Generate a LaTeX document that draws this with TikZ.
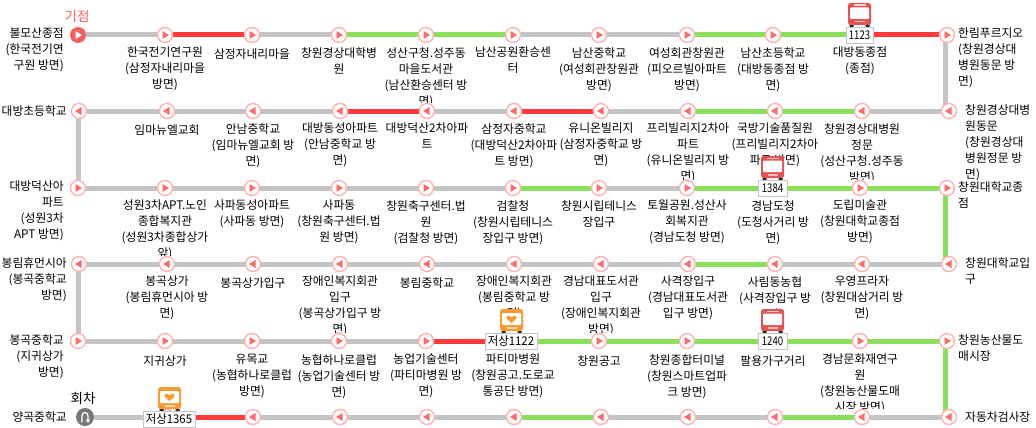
\documentclass[tikz,border=0pt]{standalone}
\usepackage{fontspec}
\usepackage{graphicx}
\setmainfont{Noto Sans CJK KR}
\definecolor{lgray}{HTML}{C4C4C4}
\definecolor{lgreen}{HTML}{8AE05A}
\definecolor{lred}{HTML}{FF3B3B}
\definecolor{ring}{HTML}{FFB2B2}
\definecolor{tri}{HTML}{FF6B6B}
\definecolor{startc}{HTML}{F2605F}
\definecolor{busred}{HTML}{E25353}
\definecolor{busorange}{HTML}{F79A32}
\definecolor{turnc}{HTML}{777777}
\pgfdeclarelayer{lo}
\pgfdeclarelayer{ln}
\pgfsetlayers{lo,ln,main}
\tikzset{
  stopbase/.style={circle,draw=ring,line width=1.4pt,fill=white,minimum size=15pt,inner sep=0pt},
  stopR/.style={stopbase,path picture={\fill[tri] ([shift={(-2.5,-4)}]path picture bounding box.center) -- ([shift={(4,0)}]path picture bounding box.center) -- ([shift={(-2.5,4)}]path picture bounding box.center) -- cycle;}},
  stopL/.style={stopbase,path picture={\fill[tri] ([shift={(2.5,-4)}]path picture bounding box.center) -- ([shift={(-4,0)}]path picture bounding box.center) -- ([shift={(2.5,4)}]path picture bounding box.center) -- cycle;}},
  stopStart/.style={circle,fill=startc,minimum size=16pt,inner sep=0pt,path picture={\fill[white] ([shift={(-2.5,-4)}]path picture bounding box.center) -- ([shift={(4,0)}]path picture bounding box.center) -- ([shift={(-2.5,4)}]path picture bounding box.center) -- cycle;}},
  stopTurn/.style={circle,fill=turnc,minimum size=18pt,inner sep=0pt},
  txt/.style={inner sep=0pt,font=\fontsize{11.8}{16}\selectfont,execute at begin node={\strut},text=black},
  lblC/.style={txt,align=center,anchor=north,yshift=-1pt},
  lblL/.style={txt,align=right,anchor=north east},
  lblR/.style={txt,align=left,anchor=north west},
  bigtxt/.style={inner sep=0pt,font=\fontsize{13.5}{16}\selectfont,execute at begin node={\strut}},
  seg/.style={line width=5pt},
  sg/.style={seg,lgray}, sn/.style={seg,lgreen}, sr/.style={seg,lred},
  buslabel/.style={draw=lgray,line width=.8pt,fill=white,inner sep=0pt,minimum height=16pt,font=\fontsize{12}{14}\selectfont},
  redbus/.pic={
    \fill[black!85] (-10,-2.5) rectangle (-6,0) (6,-2.5) rectangle (10,0);
    \fill[busred,rounded corners=2.5pt] (-11.5,-24) rectangle (11.5,-2);
    \fill[white,rounded corners=1pt] (-9.5,-19.5) rectangle (9.5,-8);
    \fill[white!70!busred] (-6,-22.5) rectangle (6,-21);
    \fill[white!60!busred] (-5,-6) rectangle (5,-4.5);
  },
  orangebus/.pic={
    \fill[black!85] (-10,-2.5) rectangle (-6,0) (6,-2.5) rectangle (10,0);
    \fill[busorange,rounded corners=2.5pt] (-11.5,-24) rectangle (11.5,-2);
    \fill[white,rounded corners=1pt] (-9.5,-20) rectangle (9.5,-8);
    \fill[busorange] (0,-10) .. controls (-3,-12.5) and (-6,-14.5) .. (-4.8,-16.5) .. controls (-3.8,-18) and (-1,-17.5) .. (0,-15.5) .. controls (1,-17.5) and (3.8,-18) .. (4.8,-16.5) .. controls (6,-14.5) and (3,-12.5) .. (0,-10) -- cycle;
    \fill[white!60!busorange] (-5,-6) rectangle (5,-4.5);
  }
}
\begin{document}
\begin{tikzpicture}[x=1pt,y=-1pt]
\useasboundingbox (0,0) rectangle (1036,428);
% stops
\node[stopStart] (a0) at (78,35) {};
\foreach \i/\x in {1/165,2/252,3/339,4/426,5/513,6/599,7/687,8/773,9/860,10/947} \node[stopR] (a\i) at (\x,35) {};
\foreach \i/\x in {0/79,1/167,2/253,3/340,4/427,5/514,6/601,7/688,8/775,9/862,10/949} \node[stopL] (b\i) at (\x,111) {};
\foreach \i/\x in {0/78,1/165,2/252,3/339,4/426,5/513,6/599,7/687,8/773,9/860,10/947} \node[stopR] (c\i) at (\x,188) {};
\foreach \i/\x in {0/79,1/167,2/253,3/340,4/427,5/514,6/601,7/688,8/775,9/862,10/949} \node[stopL] (d\i) at (\x,264) {};
\foreach \i/\x in {0/78,1/165,2/252,3/339,4/426,5/513,6/599,7/687,8/773,9/860,10/947} \node[stopR] (e\i) at (\x,341) {};
\node[stopTurn] (f0) at (85,417) {};
\foreach \i/\x in {1/167,2/253,3/340,4/427,5/514,6/601,7/688,8/775,9/862,10/949} \node[stopL] (f\i) at (\x,417) {};
\draw[white,line width=1.3pt,line cap=round] ([shift={(-3,5)}]f0.center) -- ([shift={(-3,-1)}]f0.center) .. controls ([shift={(-3,-5.5)}]f0.center) and ([shift={(3,-5.5)}]f0.center) .. ([shift={(3,-1)}]f0.center) -- ([shift={(3,4)}]f0.center);
\fill[white] ([shift={(0.8,2.5)}]f0.center) -- ([shift={(5.2,2.5)}]f0.center) -- ([shift={(3,6)}]f0.center) -- cycle;
% connectors
\begin{pgfonlayer}{ln}
\draw[sg] (a0) -- (a1); \draw[sr] (a1) -- (a2); \draw[sg] (a2) -- (a3); \draw[sn] (a3) -- (a4); \draw[sn] (a4) -- (a5);
\draw[sg] (a5) -- (a6); \draw[sg] (a6) -- (a7); \draw[sn] (a7) -- (a8); \draw[sn] (a8) -- (a9); \draw[sr] (a9) -- (a10);
\draw[sg] ([xshift=-2pt]a10.center) -- ([xshift=-4pt]b10.center);
\draw[sg] (b10) -- (b9); \draw[sn] (b9) -- (b8); \draw[sn] (b8) -- (b7); \draw[sg] (b7) -- (b6); \draw[sr] (b6) -- (b5);
\draw[sg] (b5) -- (b4); \draw[sr] (b4) -- (b3); \draw[sg] (b3) -- (b2); \draw[sg] (b2) -- (b1); \draw[sg] (b1) -- (b0);
\draw[sg] ([xshift=-1pt]b0.center) -- (c0.center);
\draw[sg] (c0) -- (c1); \draw[sg] (c1) -- (c2); \draw[sg] (c2) -- (c3); \draw[sg] (c3) -- (c4); \draw[sg] (c4) -- (c5);
\draw[sn] (c5) -- (c6); \draw[sg] (c6) -- (c7); \draw[sn] (c7) -- (c8); \draw[sn] (c8) -- (c9); \draw[sn] (c9) -- (c10);
\draw[sn] ([xshift=-2pt]c10.center) -- ([xshift=-4pt]d10.center);
\draw[sg] (d10) -- (d9); \draw[sg] (d9) -- (d8); \draw[sn] (d8) -- (d7); \draw[sg] (d7) -- (d6); \draw[sg] (d6) -- (d5);
\draw[sg] (d5) -- (d4); \draw[sg] (d4) -- (d3); \draw[sg] (d3) -- (d2); \draw[sg] (d2) -- (d1); \draw[sg] (d1) -- (d0);
\draw[sg] ([xshift=-1pt]d0.center) -- (e0.center);
\draw[sg] (e0) -- (e1); \draw[sg] (e1) -- (e2); \draw[sg] (e2) -- (e3); \draw[sg] (e3) -- (e4); \draw[sr] (e4) -- (e5);
\draw[sn] (e5) -- (e6); \draw[sn] (e6) -- (e7); \draw[sn] (e7) -- (e8); \draw[sn] (e8) -- (e9); \draw[sn] (e9) -- (e10);
\draw[sn] ([xshift=-2pt]e10.center) -- ([xshift=-4pt]f10.center);
\draw[sg] (f10) -- (f9); \draw[sn] (f9) -- (f8); \draw[sg] (f8) -- (f7); \draw[sg] (f7) -- (f6); \draw[sn] (f6) -- (f5);
\draw[sg] (f5) -- (f4); \draw[sg] (f4) -- (f3); \draw[sg] (f3) -- (f2); \draw[sr] (f2) -- (f1); \draw[sg] (f1) -- (f0);
\end{pgfonlayer}
% labels under stops
\begin{pgfonlayer}{lo}
\node[lblC] (la1) at (165,46) {한국전기연구원\\(삼정자내리마을\\방면)};
\node[lblC] (la2) at (252,46) {삼정자내리마을};
\node[lblC] (la3) at (339,46) {창원경상대학병\\원};
\node[lblC] (la4) at (426,46) {성산구청.성주동\\마을도서관\\(남산환승센터 방\\면)};
\node[lblC] (la5) at (513,46) {남산공원환승센\\터};
\node[lblC] (la6) at (599,46) {남산중학교\\(여성회관창원관\\방면)};
\node[lblC] (la7) at (687,46) {여성회관창원관\\(피오르빌아파트\\방면)};
\node[lblC] (la8) at (773,46) {남산초등학교\\(대방동종점 방\\면)};
\node[lblC] (la9) at (860,46) {대방동종점\\(종점)};
\node[lblC] (lb1) at (167,122) {임마뉴엘교회};
\node[lblC] (lb2) at (253,122) {안남중학교\\(임마뉴엘교회 방\\면)};
\node[lblC] (lb3) at (340,122) {대방동성아파트\\(안남중학교 방\\면)};
\node[lblC] (lb4) at (427,122) {대방덕산2차아파\\트};
\node[lblC] (lb5) at (514,122) {삼정자중학교\\(대방덕산2차아파\\트 방면)};
\node[lblC] (lb6) at (601,122) {유니온빌리지\\(삼정자중학교 방\\면)};
\node[lblC] (lb7) at (688,122) {프리빌리지2차아\\파트\\(유니온빌리지 방\\면)};
\node[lblC] (lb8) at (775,122) {국방기술품질원\\(프리빌리지2차아\\파트 방면)};
\node[lblC] (lb9) at (862,122) {창원경상대병원\\정문\\(성산구청.성주동\\방면)};
\node[lblC] (lc1) at (165,199) {성원3차APT.노인\\종합복지관\\(성원3차종합상가\\앞)};
\node[lblC] (lc2) at (252,199) {사파동성아파트\\(사파동 방면)};
\node[lblC] (lc3) at (339,199) {사파동\\(창원축구센터.법\\원 방면)};
\node[lblC] (lc4) at (426,199) {창원축구센터.법\\원\\(검찰청 방면)};
\node[lblC] (lc5) at (513,199) {검찰청\\(창원시립테니스\\장입구 방면)};
\node[lblC] (lc6) at (599,199) {창원시립테니스\\장입구};
\node[lblC] (lc7) at (687,199) {토월공원.성산사\\회복지관\\(경남도청 방면)};
\node[lblC] (lc8) at (773,199) {경남도청\\(도청사거리 방\\면)};
\node[lblC] (lc9) at (860,199) {도립미술관\\(창원대학교종점\\방면)};
\node[lblC] (ld1) at (167,275) {봉곡상가\\(봉림휴먼시아 방\\면)};
\node[lblC] (ld2) at (253,275) {봉곡상가입구};
\node[lblC] (ld3) at (340,275) {장애인복지회관\\입구\\(봉곡상가입구 방\\면)};
\node[lblC] (ld4) at (427,275) {봉림중학교};
\node[lblC] (ld5) at (514,275) {장애인복지회관\\(봉림중학교 방\\면)};
\node[lblC] (ld6) at (601,275) {경남대표도서관\\입구\\(장애인복지회관\\방면)};
\node[lblC] (ld7) at (688,275) {사격장입구\\(경남대표도서관\\입구 방면)};
\node[lblC] (ld8) at (775,275) {사림동농협\\(사격장입구 방\\면)};
\node[lblC] (ld9) at (862,275) {우영프라자\\(창원대삼거리 방\\면)};
\node[lblC] (le1) at (165,353) {지귀상가};
\node[lblC] (le2) at (252,353) {유목교\\(농협하나로클럽\\방면)};
\node[lblC] (le3) at (339,353) {농협하나로클럽\\(농업기술센터 방\\면)};
\node[lblC] (le4) at (426,353) {농업기술센터\\(파티마병원 방\\면)};
\node[lblC] (le5) at (513,353) {파티마병원\\(창원공고.도로교\\통공단 방면)};
\node[lblC] (le6) at (599,353) {창원공고};
\node[lblC] (le7) at (687,353) {창원종합터미널\\(창원스마트업파\\크 방면)};
\node[lblC] (le8) at (773,353) {팔용가구거리};
\node[lblC] (le9) at (860,353) {경남문화재연구\\원\\(창원농산물도매\\시장 방면)};
% row cells hide text that runs over into the next row
\foreach \r in {111,188,264,341,417} \fill[white] (72,\r-8) rectangle (954,\r+9);
\end{pgfonlayer}
% end labels
\node[lblL] (ta0) at (64,28) {불모산종점\\(한국전기연\\구원 방면)};
\node[lblL] (tb0) at (67,104) {대방초등학교};
\node[lblL] (tc0) at (64,181) {대방덕산아\\파트\\(성원3차\\APT 방면)};
\node[lblL] (td0) at (67,257) {봉림휴먼시아\\(봉곡중학교\\방면)};
\node[lblL] (te0) at (64,334) {봉곡중학교\\(지귀상가\\방면)};
\node[lblL] (tf0) at (67,410) {양곡중학교};
\node[lblR] (ta1) at (958,28) {한림푸르지오\\(창원경상대\\병원동문 방\\면)};
\node[lblR] (tb1) at (965,104) {창원경상대병\\원동문\\(창원경상대\\병원정문 방\\면)};
\node[lblR] (tc1) at (958,181) {창원대학교종\\점};
\node[lblR] (td1) at (965,257) {창원대학교입\\구};
\node[lblR] (te1) at (958,334) {창원농산물도\\매시장};
\node[lblR] (tf1) at (965,410) {자동차검사장};
\node[bigtxt,anchor=north,text=startc] (kijum) at (77,10) {기점};
\node[bigtxt,anchor=north] (hoecha) at (83,392) {회차};
% buses
\pic at (859.5,27) {redbus};
\node[buslabel,minimum width=27pt] (n1123) at (859.5,35) {\scalebox{.8}[1]{1123}};
\pic at (772.5,180) {redbus};
\node[buslabel,minimum width=29pt] (n1384) at (772.5,188) {\scalebox{.8}[1]{1384}};
\pic at (772.5,333) {redbus};
\node[buslabel,minimum width=29pt] (n1240) at (772.5,341) {\scalebox{.8}[1]{1240}};
\pic at (511.5,333) {orangebus};
\node[buslabel,minimum width=52pt] (n1122) at (511,341) {\scalebox{.95}[1]{저상1122}};
\pic at (169.5,411) {orangebus};
\node[buslabel,minimum width=52pt] (n1365) at (169,419) {\scalebox{.95}[1]{저상1365}};
\end{tikzpicture}
\end{document}
